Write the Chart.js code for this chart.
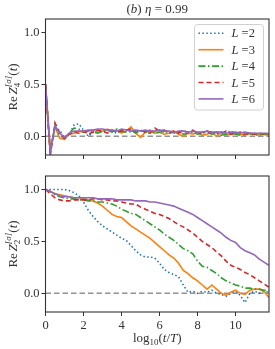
<!DOCTYPE html>
<html><head><meta charset="utf-8">
<script src="https://cdn.jsdelivr.net/npm/chart.js@4.4.0/dist/chart.umd.min.js"></script>
<style>
html,body{margin:0;padding:0;background:#fff;}
#wrap{position:relative;width:275px;height:349px;}
.panel{position:absolute;left:0;width:275px;}
#p1{top:0;height:166px;}
#p2{top:166px;height:183px;}
</style></head><body>
<div id="wrap">
  <div class="panel" id="p1"><canvas id="c1"></canvas></div>
  <div class="panel" id="p2"><canvas id="c2"></canvas></div>
</div>
<script>
// log10(t/T) grid
const logT = [0,0.25,0.5,0.75,1,1.25,1.5,1.75,2,2.25,2.5,2.75,3,3.25,3.5,3.75,4,4.25,4.5,4.75,
  5,5.25,5.5,5.75,6,6.25,6.5,6.75,7,7.25,7.5,7.75,8,8.25,8.5,8.75,9,9.25,9.5,9.75,
  10,10.25,10.5,10.75,11,11.25,11.5,11.75];

const sizes = ['2','3','4','5','6'];
const colors = ['#1f77b4','#ff7f0e','#2ca02c','#d62728','#9467bd'];
const dashes = [[1.5,2.4],[],[7,2.5,1.5,2.5],[5,3],[]];

// panel du haut : Re Z4
const z4_L2 = [0.5,-0.13,0.07,0.06,-0.02,0.02,0.11,0.12,0.06,0.0,0.04,0.05,0.04,0.06,0.05,0.03,0.05,0.06,0.04,0.05,
  0.06,0.04,0.03,0.05,0.06,0.04,0.05,0.03,0.04,0.06,0.03,0.05,0.04,0.03,0.05,0.04,0.02,0.04,0.03,0.05,
  0.02,0.03,0.04,0.02,0.03,0.02,0.03,0.02];
const z4_L3 = [0.5,-0.12,0.09,-0.02,-0.03,0.02,0.03,0.05,0.04,0.05,0.06,0.04,0.05,0.07,0.05,0.06,0.03,0.05,0.09,0.03,
  -0.01,0.04,0.05,0.03,0.04,0.02,0.03,0.05,0.02,0.0,0.03,0.02,0.04,0.01,0.02,0.04,0.0,0.03,0.01,0.02,
  0.03,0.02,0.01,0.03,0.02,0.01,0.02,0.01];
const z4_L4 = [0.5,-0.16,0.10,0.01,-0.02,0.03,0.08,0.07,0.04,0.05,0.04,0.03,0.05,0.06,0.04,0.07,0.05,0.04,0.06,0.03,
  0.05,0.04,0.06,0.03,0.04,0.05,0.03,0.04,0.05,0.02,0.03,0.04,0.02,0.03,0.04,0.02,0.03,0.01,0.02,0.03,
  0.02,0.01,0.02,0.03,0.01,0.02,0.02,0.01];
const z4_L5 = [0.5,-0.19,0.13,0.03,-0.02,0.02,0.04,0.03,0.05,0.02,0.04,0.06,0.05,0.03,0.06,0.04,0.05,0.06,0.07,0.05,
  0.06,0.04,0.03,0.08,0.05,0.06,0.04,0.05,0.03,0.05,0.04,0.06,0.03,0.04,0.05,0.03,0.04,0.03,0.05,0.02,
  0.03,0.04,0.02,0.03,0.02,0.03,0.02,0.02];
const z4_L6 = [0.5,-0.15,0.10,0.03,-0.01,0.03,0.05,0.05,0.05,0.06,0.06,0.07,0.07,0.06,0.06,0.05,0.07,0.06,0.05,0.06,
  0.05,0.06,0.05,0.05,0.06,0.05,0.05,0.04,0.05,0.05,0.04,0.05,0.04,0.04,0.05,0.04,0.04,0.04,0.03,0.04,
  0.04,0.03,0.04,0.03,0.03,0.03,0.03,0.03];

// panel du bas : Re Z2
const z2_L2 = [1.0,1.0,1.0,1.0,1.0,0.99,0.97,0.94,0.88,0.80,0.74,0.69,0.65,0.62,0.59,0.56,0.53,0.51,0.46,0.41,
  0.37,0.35,0.35,0.34,0.29,0.23,0.20,0.18,0.16,0.08,0.01,0.02,0.0,0.02,0.01,0.03,0.0,-0.01,-0.03,0.0,
  0.02,-0.02,-0.09,0.0,0.02,0.0,0.02,0.01];
const z2_L3 = [1.0,0.98,0.96,0.95,0.94,0.93,0.92,0.92,0.91,0.90,0.89,0.87,0.84,0.80,0.76,0.74,0.73,0.69,0.65,0.62,
  0.59,0.56,0.53,0.49,0.45,0.41,0.37,0.34,0.29,0.22,0.19,0.15,0.12,0.08,0.04,0.08,0.04,0.0,-0.02,0.01,
  0.03,0.0,-0.01,0.03,0.04,0.04,0.02,-0.04];
const z2_L4 = [1.0,0.98,0.95,0.93,0.92,0.91,0.91,0.90,0.90,0.89,0.89,0.88,0.88,0.87,0.86,0.84,0.81,0.79,0.77,0.76,
  0.73,0.70,0.67,0.64,0.61,0.57,0.54,0.51,0.47,0.43,0.41,0.38,0.31,0.26,0.25,0.22,0.19,0.15,0.12,0.10,
  0.08,0.07,0.05,0.05,0.04,0.04,0.03,0.03];
const z2_L5 = [1.0,0.96,0.92,0.90,0.89,0.89,0.90,0.90,0.90,0.90,0.91,0.91,0.90,0.90,0.89,0.89,0.88,0.87,0.86,0.86,
  0.83,0.81,0.79,0.77,0.76,0.74,0.72,0.69,0.66,0.64,0.61,0.58,0.54,0.50,0.47,0.44,0.40,0.36,0.31,0.27,
  0.25,0.23,0.20,0.18,0.15,0.12,0.09,0.06];
const z2_L6 = [1.0,0.98,0.96,0.94,0.93,0.93,0.92,0.92,0.92,0.92,0.92,0.91,0.91,0.91,0.91,0.90,0.90,0.90,0.90,0.89,
  0.89,0.89,0.88,0.88,0.87,0.86,0.85,0.84,0.82,0.80,0.78,0.76,0.73,0.70,0.67,0.64,0.61,0.58,0.54,0.51,
  0.49,0.44,0.41,0.39,0.37,0.33,0.30,0.27];

const xTicks = [0,2,4,6,8,10];
const yTicks = [0,0.5,1];
const xMin = 0, xMax = 11.76, yMin = -0.18, yMax = 1.13;

const SERIF = '"Liberation Serif", "DejaVu Serif", serif';
const INK = '#333';

// texte "riche" (indices / exposants) sur le canvas
function drawRich(ctx, segs, x, y, align) {
  let w = 0, lastStart = 0, lastW = 0;
  const pos = [];
  segs.forEach(function(s) {
    ctx.font = s.f;
    const sw = ctx.measureText(s.t).width;
    if (s.stack) { pos.push(lastStart); lastW = Math.max(lastW, sw); w = lastStart + lastW; }
    else { pos.push(w); lastStart = w; lastW = sw; w += sw; }
  });
  const x0 = align === 'center' ? x - w / 2 : x;
  ctx.textBaseline = 'alphabetic';
  ctx.textAlign = 'left';
  segs.forEach(function(s, i) { ctx.font = s.f; ctx.fillText(s.t, x0 + pos[i], y + (s.dy || 0)); });
  return w;
}

function rm(px) { return px + 'px ' + SERIF; }
function it(px) { return 'italic ' + px + 'px ' + SERIF; }

function yLabelSegs(sub) {
  return [
    {t:'Re', f:rm(13)}, {t:' ', f:rm(7)},
    {t:'Z', f:it(13)},
    {t:sub, f:rm(9), dy:3},
    {t:'[σ]', f:it(9), dy:-6.5, stack:true},
    {t:'(', f:rm(13)}, {t:'t', f:it(13)}, {t:')', f:rm(13)}
  ];
}

const framePlugin = {
  id: 'frame',
  afterDraw: function(chart, args, opts) {
    const ctx = chart.ctx, a = chart.chartArea;
    ctx.save();
    ctx.strokeStyle = '#333';
    ctx.lineWidth = 1.1;
    ctx.strokeRect(a.left, a.top, a.right - a.left, a.bottom - a.top);
    ctx.fillStyle = INK;
    // label axe y
    ctx.save();
    ctx.translate(17, (a.top + a.bottom) / 2);
    ctx.rotate(-Math.PI / 2);
    drawRich(ctx, yLabelSegs(opts.sub), 0, 0, 'center');
    ctx.restore();
    const cx = (a.left + a.right) / 2;
    if (opts.title) {
      drawRich(ctx, [
        {t:'(', f:rm(13)}, {t:'b', f:it(13)}, {t:') ', f:rm(13)},
        {t:'η', f:it(13)}, {t:' = 0.99', f:rm(13)}
      ], cx, 13, 'center');
    }
    if (opts.xlabel) {
      drawRich(ctx, [
        {t:'log', f:rm(13)}, {t:'10', f:rm(9), dy:3},
        {t:'(', f:rm(13)}, {t:'t', f:it(13)}, {t:'/', f:rm(13)},
        {t:'T', f:it(13)}, {t:')', f:rm(13)}
      ], cx, 176, 'center');
    }
    if (opts.legend) {
      // légende en haut à droite
      const lx = 194.5, ly = 24.5, lw = 69, lh = 85.5;
      ctx.beginPath();
      ctx.roundRect(lx, ly, lw, lh, 3);
      ctx.fillStyle = 'rgba(255,255,255,0.8)';
      ctx.fill();
      ctx.strokeStyle = '#d0d0d0';
      ctx.lineWidth = 1;
      ctx.stroke();
      const ds = chart.data.datasets.filter(function(d) { return d.isSeries; });
      ds.forEach(function(d, i) {
        const ry = 33.3 + i * 16.4;
        ctx.beginPath();
        ctx.setLineDash(d.borderDash);
        ctx.strokeStyle = d.borderColor;
        ctx.lineWidth = 1.6;
        ctx.moveTo(198.5, ry);
        ctx.lineTo(223.5, ry);
        ctx.stroke();
        ctx.setLineDash([]);
        ctx.fillStyle = INK;
        drawRich(ctx, [{t:'L', f:it(12.5)}, {t:' =' + sizes[i], f:rm(12.5)}], 231.5, ry + 4, 'left');
      });
    }
    ctx.restore();
  }
};

function buildConfig(series, opts) {
  const datasets = [{
    label: 'zero',
    data: [{x: xMin, y: 0}, {x: xMax, y: 0}],
    borderColor: 'rgba(128,128,128,0.85)',
    borderDash: [5.5, 3],
    borderWidth: 1.4,
    pointRadius: 0,
    order: 10
  }];
  series.forEach(function(arr, i) {
    datasets.push({
      label: 'L =' + sizes[i],
      isSeries: true,
      data: logT.map(function(x, k) { return {x: x, y: arr[k]}; }),
      borderColor: colors[i],
      borderDash: dashes[i],
      borderWidth: 1.6,
      pointRadius: 0,
      tension: 0,
      order: 5 - i
    });
  });
  return {
    type: 'line',
    data: { datasets: datasets },
    options: {
      responsive: true, maintainAspectRatio: false,
      animation: false, devicePixelRatio: 1,
      layout: { padding: opts.padding },
      plugins: {
        legend: { display: false },
        tooltip: { enabled: false },
        frame: opts.frame
      },
      scales: {
        x: {
          type: 'linear', min: xMin, max: xMax,
          afterBuildTicks: function(s) { s.ticks = xTicks.map(function(v) { return {value: v}; }); },
          afterFit: function(s) { s.height = opts.xHeight; },
          grid: { drawOnChartArea: false, drawTicks: true, tickLength: 4, color: '#333', tickWidth: 1 },
          border: { display: false },
          ticks: {
            display: opts.xLabels, padding: 2, color: INK,
            font: { family: SERIF, size: 12.5 },
            maxRotation: 0,
            callback: function(v) { return String(v); }
          }
        },
        y: {
          type: 'linear', min: yMin, max: yMax,
          afterBuildTicks: function(s) { s.ticks = yTicks.map(function(v) { return {value: v}; }); },
          afterFit: function(s) { s.width = 45.5; },
          grid: { drawOnChartArea: false, drawTicks: true, tickLength: 4, color: '#333', tickWidth: 1 },
          border: { display: false },
          ticks: {
            padding: 2, color: INK,
            font: { family: SERIF, size: 12.5 },
            callback: function(v) { return v.toFixed(1); }
          }
        }
      }
    },
    plugins: [framePlugin]
  };
}

new Chart(document.getElementById('c1'), buildConfig(
  [z4_L2, z4_L3, z4_L4, z4_L5, z4_L6],
  { padding: {top: 19, right: 6, left: 0, bottom: 0}, xHeight: 11, xLabels: false,
    frame: { sub: '4', title: true, legend: true } }
));

new Chart(document.getElementById('c2'), buildConfig(
  [z2_L2, z2_L3, z2_L4, z2_L5, z2_L6],
  { padding: {top: 10, right: 6, left: 0, bottom: 0}, xHeight: 37, xLabels: true,
    frame: { sub: '2', xlabel: true } }
));
</script>
</body></html>
